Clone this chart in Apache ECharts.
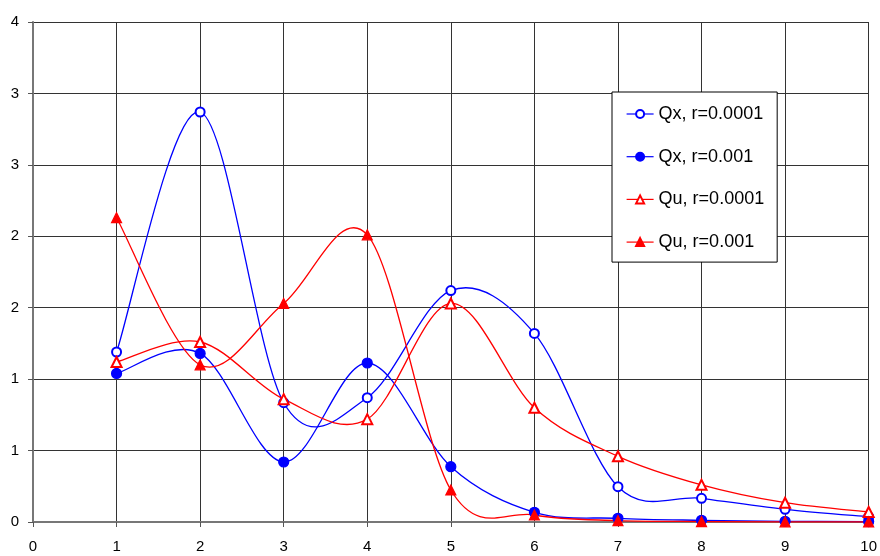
<!DOCTYPE html>
<html>
<head>
<meta charset="utf-8">
<script src="https://cdn.jsdelivr.net/npm/echarts@6/dist/echarts.min.js"></script>
<style>
  html, body { margin: 0; padding: 0; background: #fff; }
  #chart { width: 880px; height: 556px; }
</style>
</head>
<body>
<div id="chart"></div>
<script>
// x positions
var xs = [1, 2, 3, 4, 5, 6, 7, 8, 9, 10];

// values
var qx0001 = [1.19, 2.87, 0.835, 0.87, 1.62, 1.32, 0.247, 0.166, 0.089, 0.037];
var qx001  = [1.04, 1.18, 0.42, 1.113, 0.387, 0.068, 0.026, 0.012, 0.005, 0.003];
var qu0001 = [1.12, 1.26, 0.86, 0.72, 1.53, 0.80, 0.46, 0.26, 0.135, 0.07];
var qu001  = [2.13, 1.10, 1.53, 2.01, 0.224, 0.049, 0.01, 0.003, 0.001, 0.001];

var names = ['Qx, r=0.0001', 'Qx, r=0.001', 'Qu, r=0.0001', 'Qu, r=0.001'];

function pairs(vals) {
  var out = [];
  for (var i = 0; i < xs.length; i++) out.push([xs[i], vals[i]]);
  return out;
}

var chart = echarts.init(document.getElementById('chart'));

// markers (+ legend entry); the line itself is drawn by the curve series below
function marks(name, vals, color, symbol, size) {
  return {
    name: name,
    type: 'line',
    z: 3,
    data: pairs(vals),
    symbol: symbol,
    symbolSize: size,
    showAllSymbol: true,
    lineStyle: { color: color, width: 1.3, opacity: 0 },
    itemStyle: { color: color, borderColor: color, borderWidth: 1.2 },
    emphasis: { disabled: true },
    animation: false
  };
}

// excel-like smoothed line (catmull-rom bezier between the points, through the axes' scale)
function curve(name, vals, color) {
  var n = vals.length;
  return {
    name: name + ' (curve)',
    type: 'custom',
    z: 2,
    silent: true,
    data: pairs(vals),
    encode: { x: 0, y: 1 },
    renderItem: function (params, api) {
      var i = params.dataIndex;
      if (i >= n - 1) return;
      function pt(k) {
        k = Math.max(0, Math.min(n - 1, k));
        return api.coord([xs[k], vals[k]]);
      }
      var p0 = pt(i - 1), p1 = pt(i), p2 = pt(i + 1), p3 = pt(i + 2);
      return {
        type: 'bezierCurve',
        shape: {
          x1: p1[0], y1: p1[1],
          x2: p2[0], y2: p2[1],
          cpx1: p1[0] + (p2[0] - p0[0]) / 6, cpy1: p1[1] + (p2[1] - p0[1]) / 6,
          cpx2: p2[0] - (p3[0] - p1[0]) / 6, cpy2: p2[1] - (p3[1] - p1[1]) / 6
        },
        style: { stroke: color, lineWidth: 1.3, fill: null }
      };
    },
    animation: false
  };
}

var option = {
  backgroundColor: '#ffffff',
  animation: false,
  textStyle: { fontFamily: 'Liberation Sans, Arial, sans-serif' },
  grid: { left: 33, right: 4, top: 22, bottom: 34, containLabel: false },
  legend: {
    orient: 'vertical',
    left: 612,
    top: 92,
    backgroundColor: '#fff',
    borderColor: '#000',
    borderWidth: 1,
    padding: [13, 13, 11, 14],
    itemWidth: 27,
    itemHeight: 10,
    itemGap: 24.7,
    data: names,
    lineStyle: { opacity: 1, width: 1.2 },
    textStyle: { fontSize: 18, color: '#000', fontFamily: 'Liberation Sans, Arial, sans-serif', lineHeight: 17 }
  },
  xAxis: {
    type: 'value',
    min: 0,
    max: 10,
    interval: 1,
    axisLine: { show: true, onZero: false, lineStyle: { color: '#777', width: 2 } },
    axisTick: { show: true, length: 5, lineStyle: { color: '#555' } },
    axisLabel: { fontSize: 15, color: '#000', margin: 17 },
    splitLine: { show: true, lineStyle: { color: '#333', width: 1 } }
  },
  yAxis: {
    type: 'value',
    min: 0,
    max: 3.5,
    interval: 0.5,
    axisLine: { show: true, onZero: false, lineStyle: { color: '#777', width: 2 } },
    axisTick: { show: true, length: 5, lineStyle: { color: '#555' } },
    axisLabel: {
      fontSize: 15, color: '#000', margin: 14,
      formatter: function (v) { return String(Math.round(v)); }
    },
    splitLine: { show: true, lineStyle: { color: '#333', width: 1 } }
  },
  series: [
    curve(names[0], qx0001, '#0000ff'),
    curve(names[1], qx001, '#0000ff'),
    curve(names[2], qu0001, '#ff0000'),
    curve(names[3], qu001, '#ff0000'),
    marks(names[0], qx0001, '#0000ff', 'emptyCircle', 9),
    marks(names[1], qx001, '#0000ff', 'circle', 10),
    marks(names[2], qu0001, '#ff0000', 'emptyTriangle', 10),
    marks(names[3], qu001, '#ff0000', 'triangle', 10)
  ]
};

chart.setOption(option);
</script>
</body>
</html>
